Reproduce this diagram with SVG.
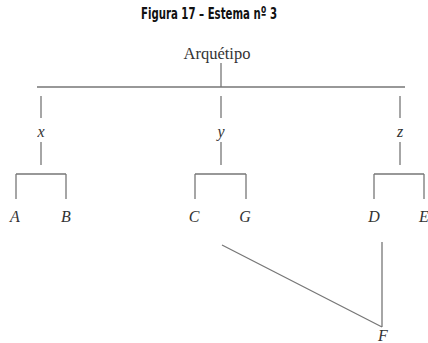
<svg xmlns="http://www.w3.org/2000/svg" width="428" height="343" viewBox="0 0 428 343">
  <style>
    .title { font-family: "DejaVu Sans Condensed", "DejaVu Sans", sans-serif; font-stretch: condensed; font-weight: bold; font-size: 16.5px; fill: #111; }
    .root { font-family: "Liberation Serif", "DejaVu Serif", serif; font-size: 16.5px; fill: #333; }
    .lbl { font-family: "Liberation Serif", "DejaVu Serif", serif; font-style: italic; font-size: 16px; fill: #333; text-anchor: middle; }
    .edge { stroke: #777; stroke-width: 1.3; fill: none; }
  </style>
  <rect width="428" height="343" fill="#fff"/>
  <text class="title" x="141" y="19" textLength="136" lengthAdjust="spacingAndGlyphs">Figura 17 – Estema nº 3</text>

  <g id="connectors">
    <path class="edge" d="M221 63 V87 M37 87 H405"/>
    <path class="edge" d="M41 96 V118 M41 142 V165 M16 174 H66 M16 174 V199 M66 174 V199"/>
    <path class="edge" d="M221 96 V118 M221 142 V165 M195 174 H246 M195 174 V199 M246 174 V199"/>
    <path class="edge" d="M400 96 V118 M400 142 V165 M374 174 H424 M374 174 V199 M424 174 V199"/>
    <path class="edge" d="M222 245 L382 327 M382 242 V327"/>
  </g>

  <g id="archetype"><text class="root" x="217" y="59" text-anchor="middle">Arquétipo</text></g>
  <g id="x"><text class="lbl" x="41" y="137">x</text></g>
  <g id="y"><text class="lbl" x="221" y="137">y</text></g>
  <g id="z"><text class="lbl" x="400" y="137">z</text></g>
  <g id="A"><text class="lbl" x="15" y="222">A</text></g>
  <g id="B"><text class="lbl" x="66" y="222">B</text></g>
  <g id="C"><text class="lbl" x="194" y="222">C</text></g>
  <g id="G"><text class="lbl" x="245" y="222">G</text></g>
  <g id="D"><text class="lbl" x="374" y="222">D</text></g>
  <g id="E"><text class="lbl" x="424" y="222">E</text></g>
  <g id="F"><text class="lbl" x="383" y="341">F</text></g>
</svg>
